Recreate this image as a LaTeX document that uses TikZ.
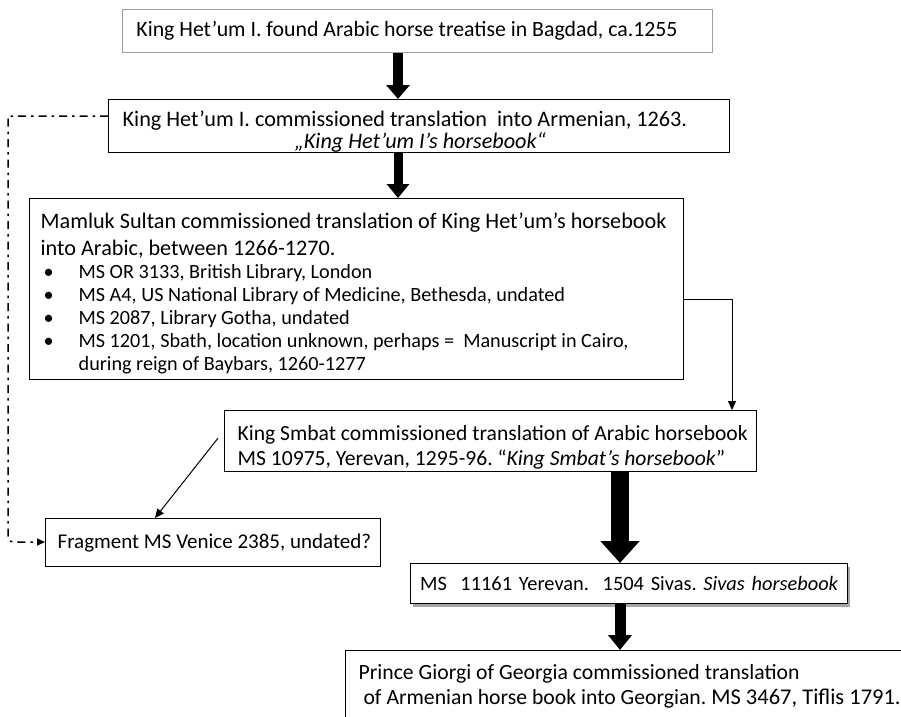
\documentclass[tikz,border=0pt]{standalone}
\usepackage{fontspec}
\setmainfont{Carlito}
\usetikzlibrary{arrows.meta,shadows,calc}
\newcommand{\oneline}[1]{\mbox{#1}}
\frenchspacing
\begin{document}
\begin{tikzpicture}[x=1pt,y=-1pt,
  boxx/.style={draw=black, line width=1.3pt, anchor=north west, inner ysep=0pt, align=flush left,
    font=\fontsize{21.8}{25}\selectfont},
  fatarrow/.style n args={3}{line width=#1, -{Triangle[length=#2, width=#3]}},
  thinarrow/.style={line width=1pt, -{Triangle[length=9pt, width=8pt]}},
  dashdot/.style={line width=1.5pt, dash pattern=on 8pt off 5pt on 2.5pt off 5pt,
    -{Triangle[length=8pt, width=7pt]}}]
\useasboundingbox (0,0) rectangle (901,716);
\clip (0,0) rectangle (901,716);
\fill[white] (0,0) rectangle (901,716);

% boxes
\node[boxx, draw=gray!75, line width=0.9pt, minimum height=43pt, text width=562pt, inner xsep=14pt]
  (b1) at (122,9) {\oneline{King Het’um I. found Arabic horse treatise in Bagdad, ca.1255}};

\node[boxx, minimum height=51pt, text width=593pt, inner xsep=14pt, font=\fontsize{22.2}{22}\selectfont]
  (b2) at (108,99) {\rule{0pt}{27pt}\oneline{King Het’um I. commissioned translation\ \ into Armenian, 1263.}\\
  \hspace*{172pt}\textit{„King Het’um I’s horsebook“}};

\node[boxx, minimum height=181pt, text width=632pt, inner xsep=11pt, font=\fontsize{22.2}{27}\selectfont]
  (b3) at (29,198) {\rule{0pt}{25pt}\oneline{Mamluk Sultan commissioned translation of King Het’um’s horsebook}\\
  into Arabic, between 1266-1270.\\
  {\fontsize{20.2}{23}\selectfont
  \makebox[38pt][l]{\hspace*{3pt}•}MS OR 3133, British Library, London\\
  \makebox[38pt][l]{\hspace*{3pt}•}MS A4, US National Library of Medicine, Bethesda, undated\\
  \makebox[38pt][l]{\hspace*{3pt}•}MS 2087, Library Gotha, undated\\
  \oneline{\makebox[38pt][l]{\hspace*{3pt}•}MS 1201, Sbath, location unknown, perhaps =\ \ Manuscript in Cairo,}\\
  \hspace*{38pt}during reign of Baybars, 1260-1277\par}};

\node[boxx, minimum height=61pt, text width=506pt, inner xsep=13pt, font=\fontsize{21.6}{25}\selectfont]
  (b4) at (224,410) {\rule{0pt}{27pt}\oneline{King Smbat commissioned translation of Arabic horsebook}\\
  \oneline{MS 10975, Yerevan, 1295-96. “\textit{King Smbat’s horsebook}”}};

\node[boxx, minimum height=48pt, text width=311pt, inner xsep=12pt, font=\fontsize{21}{25}\selectfont]
  (fr) at (45,518) {\oneline{Fragment MS Venice 2385, undated?}};

\node[boxx, minimum height=40pt, text width=437pt, inner xsep=0pt, align=center,
  font=\fontsize{20.4}{25}\selectfont,
  drop shadow={shadow xshift=2pt, shadow yshift=-3pt, opacity=0.35, fill=black}, fill=white]
  (b5) at (410,563) {\oneline{MS\ \ 11161 Yerevan.\ \ 1504 Sivas. \textit{Sivas horsebook}}};

\node[boxx, minimum height=71pt, text width=570pt, inner xsep=13pt, font=\fontsize{21.7}{25}\selectfont]
  (b6) at (345,650) {\oneline{Prince Giorgi of Georgia commissioned translation}\\
  \oneline{\ of Armenian horse book into Georgian. {\fontsize{22.5}{25}\selectfont MS 3467, Tiflis 1791.}}};

% helper coordinates
\coordinate (ax) at (398,0);
\coordinate (bx) at (620,0);
\coordinate (k1) at (732,299);
\coordinate (d1) at (8,116);
\coordinate (d2) at (8,530);
\coordinate (d3) at (20,542);

% connectors
\draw[fatarrow={10pt}{14pt}{23pt}] (b1.south -| ax) -- (b2.north -| ax);
\draw[fatarrow={9pt}{14pt}{22pt}] (b2.south -| ax) -- (b3.north -| ax);
\draw[thinarrow] (b3.east |- k1) -| (b4.north -| k1);
\draw[thinarrow] ($(b4.west)+(-6,-3)$) -- ($(fr.north west)+(110,0)$);
\draw[fatarrow={18pt}{22pt}{38pt}] (b4.south -| bx) -- (b5.north -| bx);
\draw[fatarrow={11pt}{15pt}{23pt}] (b5.south -| bx) -- (b6.north -| bx);
\draw[dashdot] (b2.west |- d1) -- (d1) -- (d2) .. controls (8,542) .. (d3) -- (fr.west |- d3);
\end{tikzpicture}
\end{document}
